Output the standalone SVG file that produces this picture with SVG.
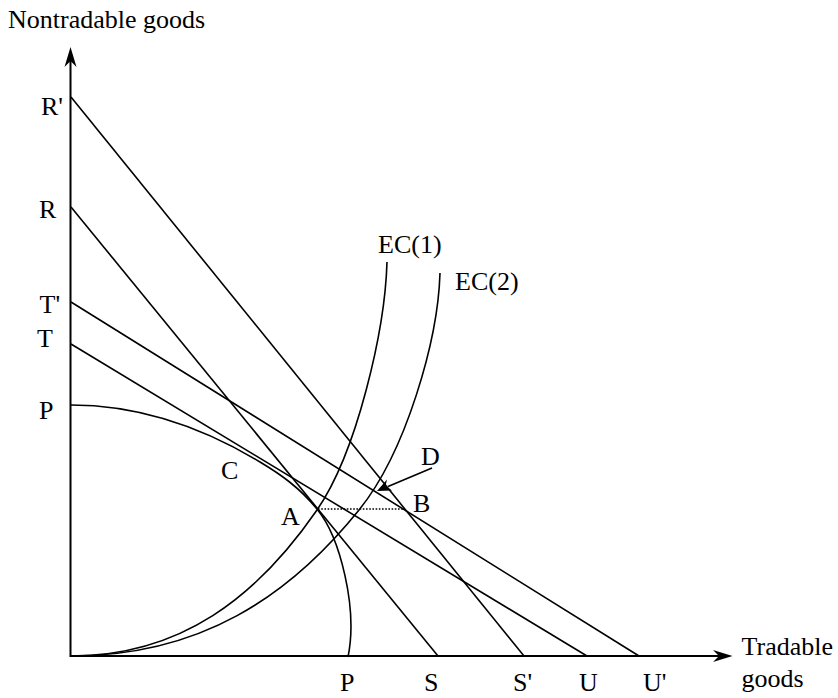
<svg xmlns="http://www.w3.org/2000/svg" width="838" height="698" viewBox="0 0 838 698">
<style>
text{font-family:"Liberation Serif","Times New Roman",serif;font-size:26px;fill:#000}
.ln{fill:none;stroke:#000;stroke-width:1.6}
.ax{fill:none;stroke:#000;stroke-width:2}
.dot{fill:none;stroke:#000;stroke-width:1.6;stroke-dasharray:1.6 1.6}
</style>
<rect width="838" height="698" fill="#fff"/>
<g id="axes">
<line class="ax" x1="70.5" y1="657" x2="70.5" y2="60"/>
<line class="ax" x1="70" y1="656" x2="720" y2="656"/>
<path d="M70.5,47 L64.5,67 L70.5,61 L76.5,67 Z" fill="#000"/>
<path d="M732.5,656 L713,650 L719,656 L713,662 Z" fill="#000"/>
</g>
<g id="lines">
<line class="ln" x1="71" y1="97" x2="524" y2="656"/>
<line class="ln" x1="71" y1="207" x2="438" y2="656"/>
<line class="ln" x1="71" y1="302" x2="639" y2="656"/>
<line class="ln" x1="71" y1="344" x2="587" y2="656"/>
</g>
<g id="curves">
<path id="PP" class="ln" d="M71,405 Q165.8,405 260,462 C280,474 299,487 317,509 C340,537 358,608 348,657"/>
<path id="EC1" class="ln" d="M71,656 C181,656 257,597 317,510 C357,452 385,330 387,262"/>
<path id="EC2" class="ln" d="M71,656 C200,656 289,597 359,510 C406,452 438,340 440,273"/>
</g>
<g id="connectors">
<line class="dot" x1="318" y1="509" x2="405" y2="509"/>
<line class="ln" x1="432" y1="468" x2="388" y2="486.5"/>
<path d="M377,491 L387,479.5 L385.5,486 L392,490.5 Z" fill="#000"/>
</g>
<g id="labels">
<text x="8" y="28">Nontradable goods</text>
<text x="41" y="115">R'</text>
<text x="39" y="218">R</text>
<text x="39.5" y="312.5">T'</text>
<text x="37" y="346.5">T</text>
<text x="39" y="419">P</text>
<text x="221" y="479">C</text>
<text x="281" y="525">A</text>
<text x="413" y="512">B</text>
<text x="421" y="465">D</text>
<text x="378" y="253">EC(1)</text>
<text x="455" y="290">EC(2)</text>
<text x="340" y="691">P</text>
<text x="424" y="691">S</text>
<text x="513" y="691">S'</text>
<text x="579" y="691">U</text>
<text x="643" y="691">U'</text>
<text x="741.5" y="655">Tradable</text>
<text x="741.5" y="687">goods</text>
</g>
</svg>
